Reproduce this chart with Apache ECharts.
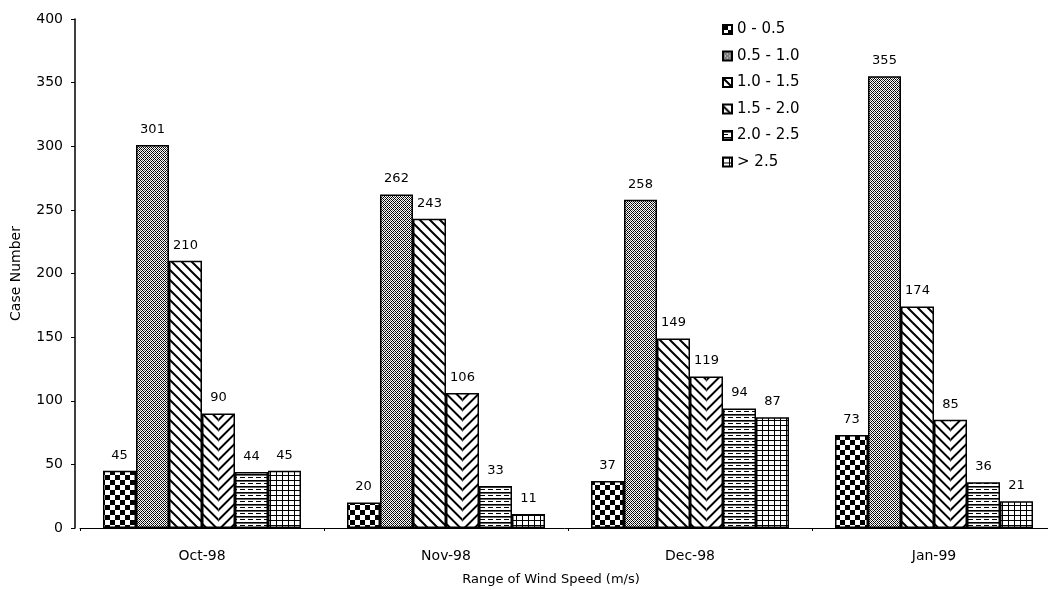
<!DOCTYPE html>
<html><head><meta charset="utf-8">
<script src="https://cdn.jsdelivr.net/npm/echarts@6/dist/echarts.min.js"></script>
<style>html,body{margin:0;padding:0;background:#fff}#c{width:1048px;height:590px}</style>
</head><body><div id="c"></div>
<script>
const categories = ['Oct-98', 'Nov-98', 'Dec-98', 'Jan-99'];
const seriesNames = ['0 - 0.5', '0.5 - 1.0', '1.0 - 1.5', '1.5 - 2.0', '2.0 - 2.5', '> 2.5'];
const v00_05 = [45, 20, 37, 73];
const v05_10 = [301, 262, 258, 355];
const v10_15 = [210, 243, 149, 174];
const v15_20 = [90, 106, 119, 85];
const v20_25 = [44, 33, 94, 36];
const v25up = [45, 11, 87, 21];
const yMin = 0, yMax = 400, yStep = 50;

const FONT = 'DejaVu Sans';

function tile(w, h, draw) {
  const c = document.createElement('canvas');
  c.width = w; c.height = h;
  const g = c.getContext('2d');
  g.fillStyle = '#fff'; g.fillRect(0, 0, w, h);
  g.fillStyle = '#000'; g.strokeStyle = '#000';
  draw(g, w, h);
  return { image: c, repeat: 'repeat' };
}
const pChecker = tile(10, 10, g => { g.fillRect(0, 0, 5, 5); g.fillRect(5, 5, 5, 5); });
const pCross = tile(4, 4, g => {
  for (let x = 0; x < 4; x++) for (let y = 0; y < 4; y++) {
    if ((x + y) % 4 === 0 || ((x - y) % 4 + 4) % 4 === 0) g.fillRect(x, y, 1, 1);
    else if ((x + y) % 2 === 0) { g.fillStyle = '#666'; g.fillRect(x, y, 1, 1); g.fillStyle = '#000'; }
  }
});
const pBack = tile(10, 10, g => {
  g.lineWidth = 2; g.beginPath();
  for (let k = -2; k <= 2; k++) { g.moveTo(k * 10 - 1, -1); g.lineTo(k * 10 + 11, 11); }
  g.stroke();
});
const pHerring = tile(244, 10, g => {
  const s = 218.5;
  g.lineWidth = 2;
  g.save(); g.beginPath(); g.rect(0, 0, s, 10); g.clip();
  g.beginPath();
  for (let k = -30; k <= 30; k++) { const x0 = s - 10 * k; g.moveTo(x0 - 2, -2); g.lineTo(x0 + 12, 12); }
  g.stroke(); g.restore();
  g.save(); g.beginPath(); g.rect(s, 0, 244 - s, 10); g.clip();
  g.beginPath();
  for (let k = -30; k <= 30; k++) { const x1 = s + 10 * k; g.moveTo(x1 + 2, -2); g.lineTo(x1 - 12, 12); }
  g.stroke(); g.restore();
});
const pHoriz = tile(8, 6, g => { g.fillRect(0, 0, 8, 1.6); g.fillRect(0, 3, 5, 1); });
const pGrid = tile(6, 5, g => { g.fillRect(0, 0, 6, 1); g.fillRect(0, 0, 1, 5); });

const patterns = [pChecker, pCross, pBack, pHerring, pHoriz, pGrid];
const values = [v00_05, v05_10, v10_15, v15_20, v20_25, v25up];

const chart = echarts.init(document.getElementById('c'), null, { renderer: 'canvas' });
chart.setOption({
  animation: false,
  backgroundColor: '#fff',
  textStyle: { fontFamily: FONT, color: '#000' },
  grid: { left: 80, right: -8, top: 19, bottom: 62, containLabel: false, outerBoundsMode: 'none' },
  legend: {
    orient: 'vertical', left: 722, top: 22, icon: 'rect', padding: 0,
    itemWidth: 9, itemHeight: 9, itemGap: 11.5,
    textStyle: { fontFamily: FONT, fontSize: 15, color: '#000' },
    data: seriesNames
  },
  xAxis: {
    type: 'category', data: categories,
    axisLine: { lineStyle: { color: '#000', width: 1 } },
    axisTick: { show: true, length: 3, lineStyle: { color: '#000' } },
    axisLabel: { fontFamily: FONT, fontSize: 14, color: '#000', margin: 21 },
    name: 'Range of Wind Speed (m/s)', nameLocation: 'middle', nameGap: 45,
    nameTextStyle: { fontFamily: FONT, fontSize: 13, color: '#000', padding: [0, 34, 0, 0] }
  },
  yAxis: {
    type: 'value', min: yMin, max: yMax, interval: yStep, offset: 5,
    axisLine: { show: true, lineStyle: { color: '#000', width: 1.5 } },
    axisTick: { show: true, length: 4, lineStyle: { color: '#000' } },
    axisLabel: { fontFamily: FONT, fontSize: 14, color: '#000', margin: 12 },
    splitLine: { show: false },
    name: 'Case Number', nameLocation: 'middle', nameGap: 52,
    nameTextStyle: { fontFamily: FONT, fontSize: 14, color: '#000' }
  },
  series: seriesNames.map((n, i) => ({
    name: n, type: 'bar', data: values[i], barWidth: 33, barGap: '0%',
    itemStyle: { color: patterns[i], borderColor: '#000', borderWidth: 1.5 },
    label: { show: true, position: 'top', distance: 9, fontFamily: FONT, fontSize: 13, color: '#000' }
  }))
});
</script>
</body></html>
